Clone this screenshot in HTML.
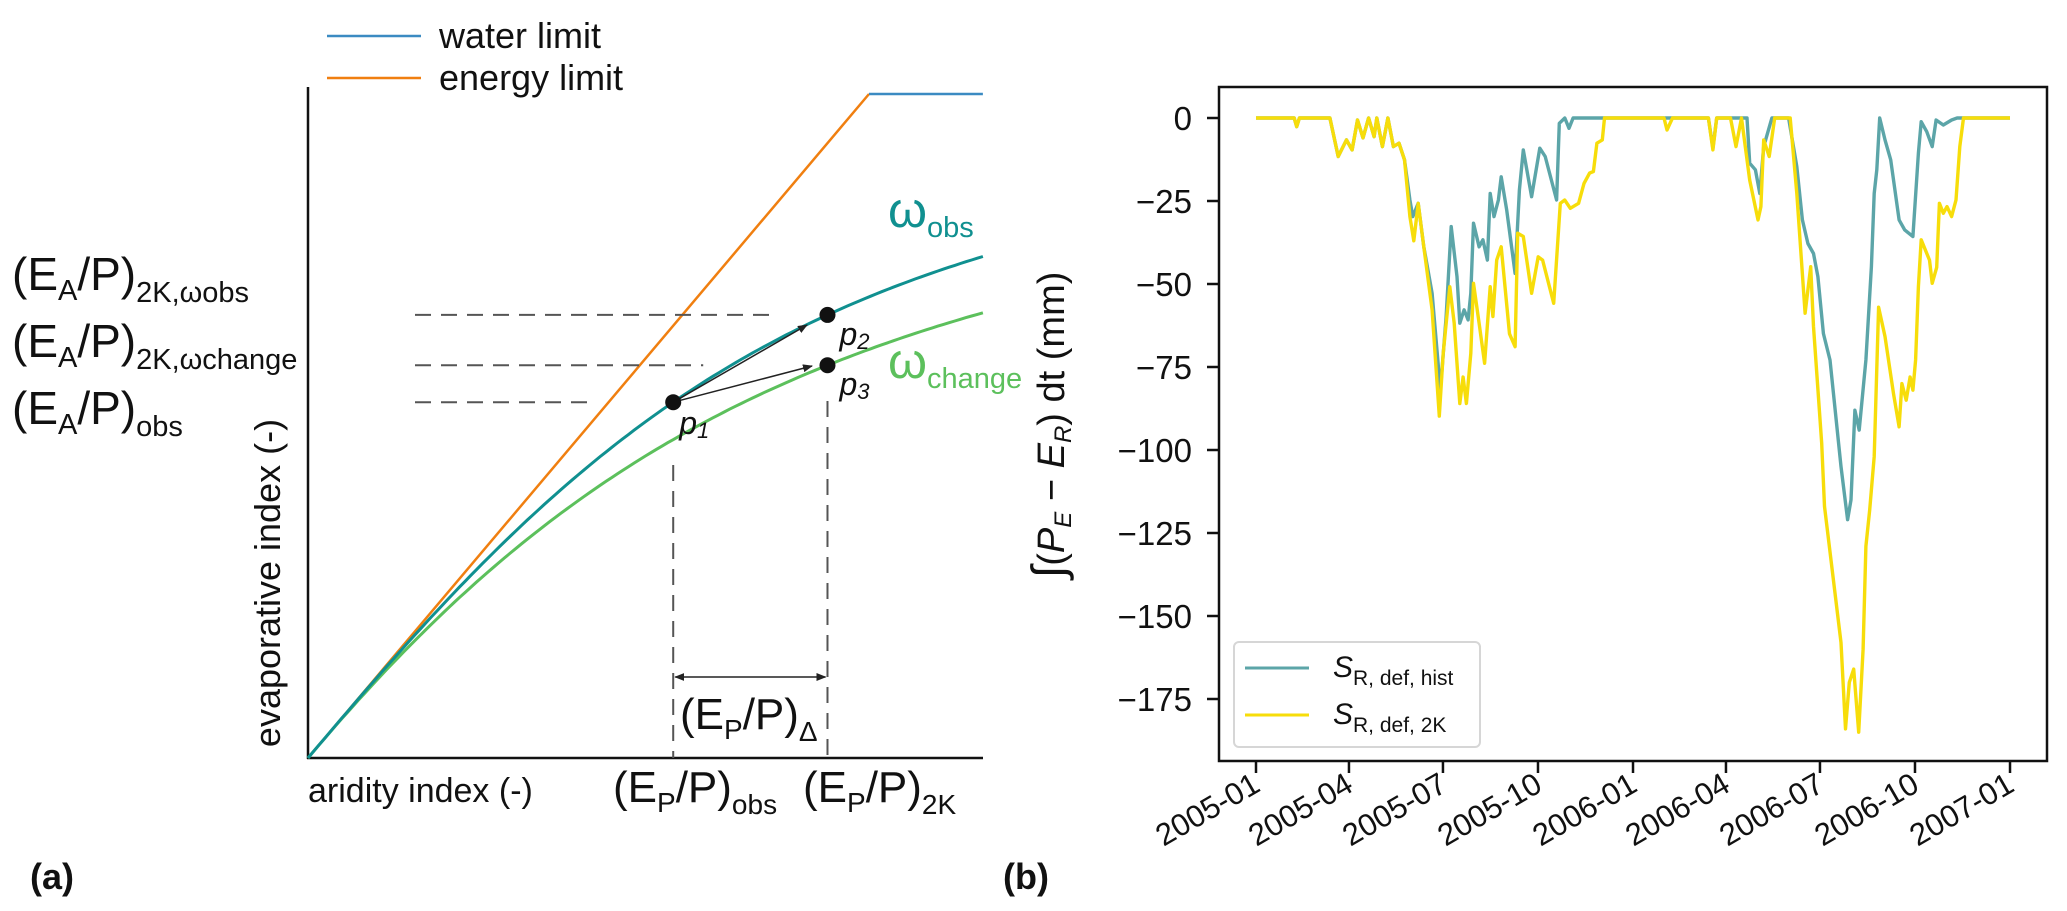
<!DOCTYPE html>
<html><head><meta charset="utf-8"><style>
html,body{margin:0;padding:0;background:#fff;}
svg{display:block;font-family:"Liberation Sans",sans-serif;}
</style></head><body>
<svg id="fig" width="2067" height="911" viewBox="0 0 2067 911" xmlns="http://www.w3.org/2000/svg">
<g id="panelA">
  <g>
    <line x1="327" y1="36" x2="421" y2="36" stroke="#3b8bc2" stroke-width="2.5"/>
    <text x="439" y="48" font-size="36" fill="#111">water limit</text>
    <line x1="327" y1="78" x2="421" y2="78" stroke="#f07f10" stroke-width="2.5"/>
    <text x="439" y="90" font-size="36" fill="#111">energy limit</text>
  </g>
  <line x1="308" y1="87" x2="308" y2="759" stroke="#111" stroke-width="2.5"/>
  <line x1="307" y1="758" x2="983" y2="758" stroke="#111" stroke-width="2.5"/>
  <g id="curvesA"></g>
  <text transform="translate(280,583) rotate(-90)" text-anchor="middle" font-size="36" fill="#111">evaporative index (-)</text>
  <text x="308" y="802" font-size="34" fill="#111">aridity index (-)</text>
  <text x="613" y="802" font-size="44" fill="#111">(E<tspan font-size="28" dy="10">P</tspan><tspan dy="-10">/P)</tspan><tspan font-size="28" dy="12">obs</tspan></text>
  <text x="803" y="802" font-size="44" fill="#111">(E<tspan font-size="28" dy="10">P</tspan><tspan dy="-10">/P)</tspan><tspan font-size="28" dy="12">2K</tspan></text>
  <text x="680" y="729" font-size="44" fill="#111">(E<tspan font-size="28" dy="10">P</tspan><tspan dy="-10">/P)</tspan><tspan font-size="28" dy="12">Δ</tspan></text>
  <text x="12" y="290" font-size="46" fill="#111">(E<tspan font-size="29" dy="10">A</tspan><tspan dy="-10">/P)</tspan><tspan font-size="29" dy="12">2K,ωobs</tspan></text>
  <text x="12" y="357" font-size="46" fill="#111">(E<tspan font-size="29" dy="10">A</tspan><tspan dy="-10">/P)</tspan><tspan font-size="29" dy="12">2K,ωchange</tspan></text>
  <text x="12" y="424" font-size="46" fill="#111">(E<tspan font-size="29" dy="10">A</tspan><tspan dy="-10">/P)</tspan><tspan font-size="29" dy="12">obs</tspan></text>
  <text x="888" y="227" font-size="50" fill="#109090">ω<tspan font-size="29" dy="10">obs</tspan></text>
  <text x="888" y="378" font-size="50" fill="#5cc05c">ω<tspan font-size="29" dy="10">change</tspan></text>
  <text x="30" y="889" font-size="36" font-weight="bold" fill="#111">(a)</text>
</g>
<g id="panelB">
  <text x="1003" y="889" font-size="36" font-weight="bold" fill="#111">(b)</text>
  <g id="chartB"></g>
  <rect x="1219" y="87" width="828" height="674" fill="none" stroke="#111" stroke-width="2.5"/>
  <text transform="translate(1064,425) rotate(-90)" text-anchor="middle" font-size="38" fill="#111"><tspan font-size="46">∫</tspan>(<tspan font-style="italic">P</tspan><tspan font-size="24" font-style="italic" dy="7">E</tspan><tspan dy="-7"> − </tspan><tspan font-style="italic">E</tspan><tspan font-size="24" font-style="italic" dy="7">R</tspan><tspan dy="-7">) dt  (mm)</tspan></text>
  <g>
    <rect x="1234" y="642" width="246" height="105" rx="5" fill="#fff" stroke="#d6d6d6" stroke-width="2"/>
    <line x1="1245" y1="668" x2="1309" y2="668" stroke="#5ca5a8" stroke-width="3"/>
    <text x="1333" y="677" font-size="30" fill="#111"><tspan font-style="italic">S</tspan><tspan font-size="21" dy="8">R, def, hist</tspan></text>
    <line x1="1245" y1="715" x2="1309" y2="715" stroke="#f7dd0a" stroke-width="3"/>
    <text x="1333" y="724" font-size="30" fill="#111"><tspan font-style="italic">S</tspan><tspan font-size="21" dy="8">R, def, 2K</tspan></text>
  </g>
</g>
</svg>
<script>
// ---- Panel (b) data ----
const tickLabels = ["2005-01","2005-04","2005-07","2005-10","2006-01","2006-04","2006-07","2006-10","2007-01"];
const tickDays = [0,90,181,273,365,455,546,638,730];
const yTicks = [0,-25,-50,-75,-100,-125,-150,-175];
const histDays = [0,37,39.4,42,71.5,79.6,87.6,93,98.3,103.6,109,114.3,117,122.4,127.7,133,138.4,143.8,149,151.8,157,162.5,170.5,178.5,184,189,194.6,197.3,201.5,205.3,208,210.6,216,219.7,224,226.7,230.4,234.7,237.4,242.7,250.8,255,258.8,266.8,274.8,280,291,293.6,299,303,307,438,442.3,446,475.4,478,483.5,487.8,491.5,499.5,515.6,523.6,529,534.3,539.7,544,549.3,555.7,566.4,572.8,576,579.8,584,590.5,595.8,598.5,601,603.8,609,614.5,622.6,628,636,641.3,644,649.3,654.7,658.4,665.4,673.4,678.8,730];
const histVals = [0,0,-2.6,0,0,-11.6,-6.6,-9.6,-0.6,-6,0,-5.6,0,-8.6,0,-8.6,-7.6,-12.6,-24.7,-29.7,-25.7,-38.8,-52.8,-82,-60,-32.7,-47.8,-61.8,-57.8,-60.8,-52.8,-31.7,-38.8,-36.7,-42.8,-22.7,-29.7,-24.7,-17.7,-27.7,-46.8,-21.7,-9.6,-23.7,-9.1,-11.6,-24.7,-1.6,0,-3.1,0,0,-9.1,0,0,-13.6,-15.6,-22.7,-8.6,0,0,-14.6,-30.7,-37.8,-40.8,-47.8,-64.9,-72.9,-105,-121,-115,-88,-94,-72.9,-44.8,-22.7,-15.6,0,-6.6,-12.6,-30.7,-33.7,-35.7,-10.6,-1.1,-4.1,-8.6,-0.6,-2.1,-0.6,0,0];
const k2Days = [0,37,39.4,42,71.5,79.6,87.6,93,98.3,103.6,109,114.3,117,122.4,127.7,133,138.4,143.8,149,152.8,157,162.5,170.5,177.5,181.2,187.6,191.9,197.3,200.5,203.7,208,210.6,216,221.3,226.7,229.4,233,237.4,245.4,250.8,253.4,258.8,266.8,273.2,277.5,288.2,294.6,298.9,304.3,312.3,317.6,323,326.7,330,335.3,337.4,395,397.9,403.2,438,442.3,446,459.4,464.7,470,478,486,488.8,491.5,496.9,502.2,517.2,523.6,531.6,537,539.7,547.7,550.4,566.4,570.7,574.4,578.7,583.5,587.8,590.5,594.2,598.5,602.8,609,617.2,622.6,625.3,629.5,633.3,636,638.6,641.3,644,652,654.7,659,661.6,665.4,669,673.4,677.7,681.4,685,730];
const k2Vals = [0,0,-2.6,0,0,-11.6,-6.6,-9.6,-0.6,-6,0,-5.6,0,-8.6,0,-8.6,-7.6,-12.6,-29.7,-37,-25.7,-38.8,-57.8,-89.8,-70.9,-50.8,-61.8,-86,-78,-86,-70.9,-49.8,-61.8,-73.9,-50.8,-59.8,-42.8,-38.8,-65,-68.9,-34.7,-35.7,-52.8,-41.8,-42.8,-55.8,-25.7,-24.7,-27.2,-25.7,-19.7,-16.6,-16.1,-7.6,-6.6,0,0,-3.6,0,0,-9.6,0,0,-8.6,0,-18.7,-30.7,-26.7,-6.6,-11.6,0,0,-22.7,-58.8,-44.8,-62.8,-98,-117,-158,-184,-170,-166,-185,-160,-129,-118,-102,-57,-65.8,-83,-93,-80,-85,-78,-82,-72.9,-50.8,-36.7,-42.8,-49.8,-45,-25.7,-28.7,-26.7,-29.7,-24.7,-8.6,0,0];
// ---- Panel (a) data ----
const omegaObs = 2.6;
const omegaChange = 2.13;
const phiObs = 0.651;
const phi2K = 0.926;

const NS = "http://www.w3.org/2000/svg";
function mk(tag, attrs, parent){const e=document.createElementNS(NS,tag);for(const k in attrs)e.setAttribute(k,attrs[k]);parent.appendChild(e);return e;}

const xB = d => 1256 + d*1.0329;
const yB = v => 118 - v*3.32;
const chartB = document.getElementById('chartB');
yTicks.forEach(v=>{
  const t = mk('line',{x1:1207,x2:1219,y1:yB(v),y2:yB(v),stroke:'#111','stroke-width':2.5},chartB);
  
  
  const l = mk('text',{x:1192,y:yB(v)+12,'text-anchor':'end','font-size':33,fill:'#111'},chartB);
  l.textContent = v===0 ? '0' : '\u2212'+Math.abs(v);
  
  
});
tickDays.forEach((d,i)=>{
  const x = xB(d);
  const t = mk('line',{x1:x,x2:x,y1:761,y2:773,stroke:'#111','stroke-width':2.5},chartB);
  
  
  const l = mk('text',{transform:`translate(${x+6},${790}) rotate(-30)`,'text-anchor':'end','font-size':31,fill:'#111'},chartB);
  l.textContent = tickLabels[i];
  
  
});
function series(days, vals, color, name){
  const p = days.map((d,i)=>`${i?'L':'M'}${xB(d).toFixed(1)},${yB(vals[i]).toFixed(1)}`).join('');
  const e = mk('path',{d:p,fill:'none',stroke:color,'stroke-width':3.4,'stroke-linejoin':'round'},chartB);
  
  
}
series(histDays,histVals,'#5ca5a8','series-hist');
series(k2Days,k2Vals,'#f7dd0a','series-2k');

const gA = document.getElementById('curvesA');
const xA = phi => 308 + phi*561;
const yA = e => 758 - e*664;
const fu = (phi,w) => 1 + phi - Math.pow(1+Math.pow(phi,w),1/w);
function curve(w,color,name){
  let p='';
  for(let i=0;i<=120;i++){const phi=i/120*1.203;p+=(i?'L':'M')+xA(phi).toFixed(1)+','+yA(fu(phi,w)).toFixed(1);}
  const e = mk('path',{d:p,fill:'none',stroke:color,'stroke-width':3},gA);
  
  
}
const en = mk('path',{d:`M${xA(0)},${yA(0)}L${xA(1)},${yA(1)}`,fill:'none',stroke:'#f07f10','stroke-width':2.5},gA);


const wa = mk('path',{d:`M${xA(1)},${yA(1)}L${xA(1.203)},${yA(1)}`,fill:'none',stroke:'#3b8bc2','stroke-width':2.5},gA);


curve(omegaChange,'#5cc05c','curve-omega-change');
curve(omegaObs,'#109090','curve-omega-obs');
const p1 = [xA(phiObs), yA(fu(phiObs,omegaObs))];
const p2 = [xA(phi2K), yA(fu(phi2K,omegaObs))];
const p3 = [xA(phi2K), yA(fu(phi2K,omegaChange))];
function dash(x1,y1,x2,y2,name){
  const e = mk('line',{x1,y1,x2,y2,stroke:'#555','stroke-width':2,'stroke-dasharray':'16,10'},gA);
  
  
}
dash(415,p2[1],p2[0]-50,p2[1],'dash-ea-2k-wobs');
dash(415,p3[1],p1[0]+30,p3[1],'dash-ea-2k-wchange');
dash(415,p1[1],p1[0]-84,p1[1],'dash-ea-obs');
dash(p1[0],465,p1[0],758,'dash-ep-obs');
dash(p2[0],401,p2[0],758,'dash-ep-2k');
const defs = mk('defs',{},document.getElementById('fig'));
const mkr = mk('marker',{id:'ah',markerWidth:10,markerHeight:8,refX:9,refY:4,orient:'auto-start-reverse',markerUnits:'userSpaceOnUse'},defs);
mk('path',{d:'M0,0L10,4L0,8Z',fill:'#222'},mkr);
function arrow(x1,y1,x2,y2,name,both){
  const a = {x1,y1,x2,y2,stroke:'#222','stroke-width':1.5,'marker-end':'url(#ah)'};
  if(both) a['marker-start']='url(#ah)';
  const e = mk('line',a,gA);
  
  
}
arrow(p1[0],p1[1],807,325,'arrow-p1-p2');
arrow(p1[0],p1[1],812,366,'arrow-p1-p3');
arrow(p1[0]+2,677,p2[0]-2,677,'arrow-ep-delta',true);
[[p1,'point-p1','p',1,6,32],[p2,'point-p2','p',2,12,30],[p3,'point-p3','p',3,12,30]].forEach(([p,n,s,k,dx,dy])=>{
  const c = mk('circle',{cx:p[0],cy:p[1],r:8,fill:'#111'},gA);
  
  
  const t = mk('text',{x:p[0]+dx,y:p[1]+dy,'font-size':32,'font-style':'italic',fill:'#111'},gA);
  t.innerHTML = s+'<tspan font-size="22" dy="4">'+k+'</tspan>';
  
  
});
</script>
</body></html>
